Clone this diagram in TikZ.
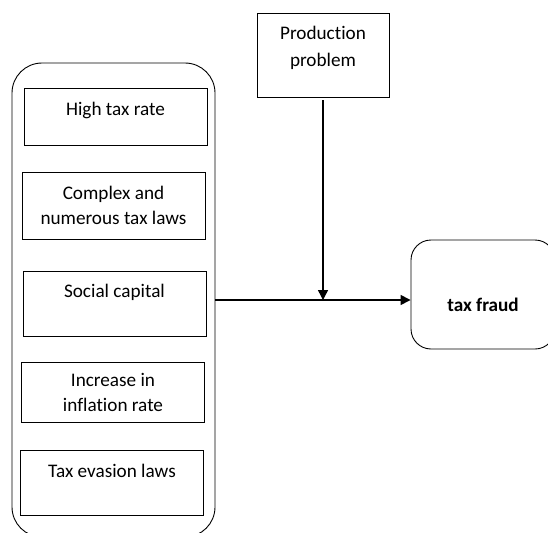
\documentclass[tikz,border=0pt]{standalone}
\usepackage{fontspec}
\setmainfont{Carlito}[Ligatures=NoCommon]
\usepackage{tikz}
\usetikzlibrary{shapes.geometric, arrows.meta}
\tikzstyle{arrow} = [->,>={Triangle[length=10pt,width=10pt]}, line width=1.4pt]
\tikzstyle{factor} = [rectangle, draw, line width=0.9pt, minimum width=183pt, inner sep=4pt, align=center]

\begin{document}
\begin{tikzpicture}[x=1pt, y=-1pt, font=\fontsize{19.2}{25}\selectfont]
  \useasboundingbox (0,0) rectangle (548,532);
  \node (group) [rectangle, draw, rounded corners=30pt, line width=0.9pt, minimum width=203pt, minimum height=474pt] at (113.5,300) {};
  \node (rate) [factor, text height=24pt, text depth=25pt] at (115.5,116.5) {High tax rate};
  \node (laws) [factor, minimum height=67pt] at (113.5,205.5) {Complex and\\numerous tax laws};
  \node (social) [factor, text height=22.5pt, text depth=34.5pt] at (114.5,303.5) {Social capital};
  \node (inflation) [factor, minimum height=60pt] at (113,392) {Increase in\\inflation rate};
  \node (evasion) [factor, text height=23.5pt, text depth=33.5pt] at (112,482.5) {Tax evasion laws};
  \node (prod) [factor, minimum width=132pt, text height=50pt, text depth=26pt] at (323,55) {Production\\[2pt]problem};
  \node (fraud) [rectangle, draw, rounded corners=20pt, line width=0.9pt, minimum width=144pt, inner sep=4pt, text height=67pt, text depth=34pt, font=\fontsize{19.2}{25}\selectfont\bfseries] at (483,294.5) {tax fraud};

  \coordinate (join) at (prod.south |- group.east);
  \draw[arrow, shorten <=3pt] (prod) -- (join);
  \draw[arrow] (group) -- (group -| fraud.west);
\end{tikzpicture}
\end{document}
